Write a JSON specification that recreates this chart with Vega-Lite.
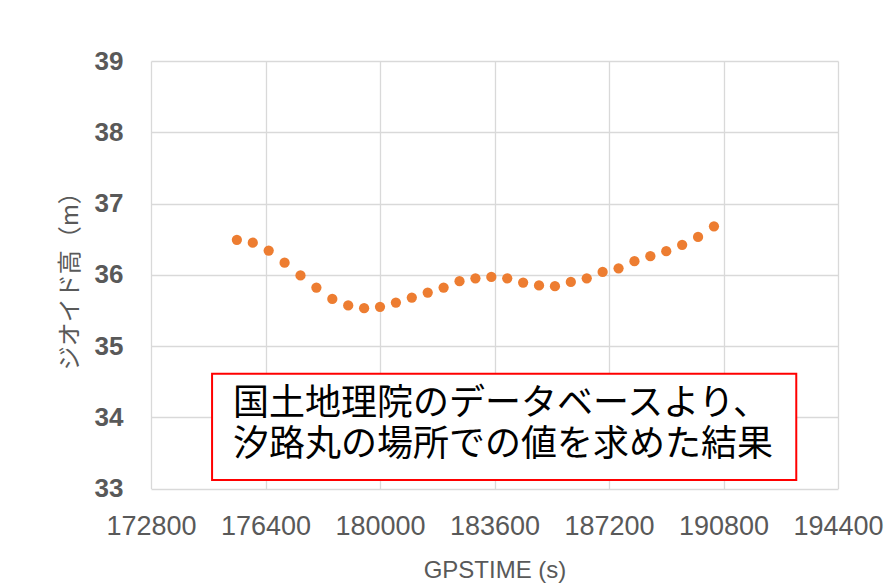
{
  "$schema": "https://vega.github.io/schema/vega-lite/v6.json",
  "width": 687,
  "height": 427.5,
  "autosize": {"type": "none"},
  "padding": {"left": 151, "top": 61, "right": 49, "bottom": 98.5},
  "background": "white",
  "config": {"view": {"stroke": null}},
  "datasets": {
    "geoid": [
      {"t": 175500, "h": 36.49}, {"t": 176000, "h": 36.45}, {"t": 176500, "h": 36.34},
      {"t": 177000, "h": 36.17}, {"t": 177500, "h": 35.99}, {"t": 178000, "h": 35.82},
      {"t": 178500, "h": 35.66}, {"t": 179000, "h": 35.57}, {"t": 179500, "h": 35.53},
      {"t": 180000, "h": 35.55}, {"t": 180500, "h": 35.61}, {"t": 181000, "h": 35.68},
      {"t": 181500, "h": 35.75}, {"t": 182000, "h": 35.82}, {"t": 182500, "h": 35.91},
      {"t": 183000, "h": 35.95}, {"t": 183500, "h": 35.97}, {"t": 184000, "h": 35.95},
      {"t": 184500, "h": 35.89}, {"t": 185000, "h": 35.85}, {"t": 185500, "h": 35.84},
      {"t": 186000, "h": 35.90}, {"t": 186500, "h": 35.95}, {"t": 187000, "h": 36.04},
      {"t": 187500, "h": 36.09}, {"t": 188000, "h": 36.19}, {"t": 188500, "h": 36.26},
      {"t": 189000, "h": 36.33}, {"t": 189500, "h": 36.42}, {"t": 190000, "h": 36.53},
      {"t": 190500, "h": 36.68}
    ],
    "note": [
      {"t": 174720, "t2": 193088, "h": 34.61, "h2": 33.12}
    ],
    "label": [
      {"t": 175379, "h": 34.18, "text": "国土地理院のデータベースより、\n汐路丸の場所での値を求めた結果"}
    ]
  },
  "layer": [
    {
      "data": {"name": "geoid"},
      "mark": {"type": "circle", "size": 105, "color": "#ED7D31", "opacity": 1},
      "encoding": {
        "x": {
          "field": "t", "type": "quantitative", "title": "GPSTIME (s)",
          "scale": {"domain": [172800, 194400], "nice": false, "zero": false},
          "axis": {
            "values": [172800, 176400, 180000, 183600, 187200, 190800, 194400],
            "format": "d",
            "grid": true, "gridColor": "#D9D9D9", "gridWidth": 1.3,
            "domain": false, "ticks": false,
            "labelFont": "Liberation Sans", "labelFontSize": 27, "labelColor": "#595959",
            "labelPadding": 25, "labelFlush": false, "labelOverlap": false,
            "titleFont": "Liberation Sans", "titleFontSize": 24, "titleFontWeight": "normal",
            "titleColor": "#595959", "titlePadding": 19
          }
        },
        "y": {
          "field": "h", "type": "quantitative", "title": "ジオイド高（m）",
          "scale": {"domain": [33, 39], "nice": false, "zero": false},
          "axis": {
            "values": [33, 34, 35, 36, 37, 38, 39],
            "format": "d",
            "grid": true, "gridColor": "#D9D9D9", "gridWidth": 1.3,
            "domain": false, "ticks": false,
            "labelFont": "Liberation Sans", "labelFontSize": 26, "labelFontWeight": "bold",
            "labelColor": "#595959", "labelPadding": 28, "labelFlush": false, "labelOverlap": false,
            "titleFont": "Noto Sans CJK JP", "titleFontSize": 24, "titleFontWeight": "normal",
            "titleColor": "#595959", "titlePadding": 12
          }
        }
      }
    },
    {
      "data": {"name": "note"},
      "mark": {"type": "rect", "fill": "white", "stroke": "#FF0000", "strokeWidth": 2},
      "encoding": {
        "x": {"field": "t", "type": "quantitative", "title": "GPSTIME (s)"},
        "x2": {"field": "t2"},
        "y": {"field": "h", "type": "quantitative", "title": "ジオイド高（m）"},
        "y2": {"field": "h2"}
      }
    },
    {
      "data": {"name": "label"},
      "mark": {"type": "text", "align": "left", "baseline": "middle", "lineBreak": "\n", "lineHeight": 41, "font": "Noto Sans CJK JP", "fontSize": 36, "color": "#000000"},
      "encoding": {
        "x": {"field": "t", "type": "quantitative", "title": "GPSTIME (s)"},
        "y": {"field": "h", "type": "quantitative", "title": "ジオイド高（m）"},
        "text": {"field": "text"}
      }
    }
  ]
}
